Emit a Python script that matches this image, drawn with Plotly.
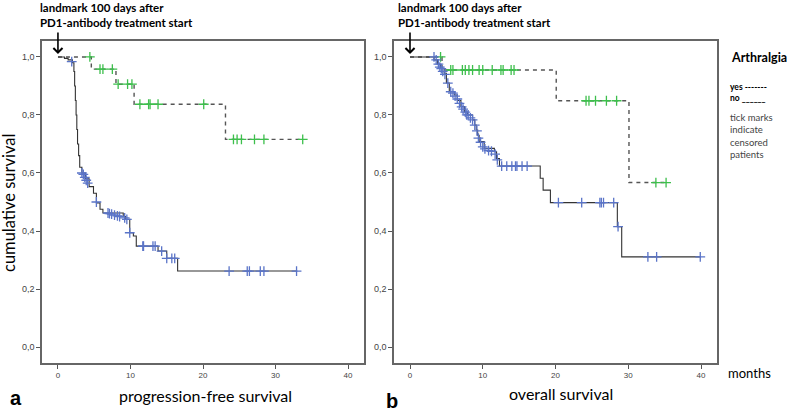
import plotly.graph_objects as go

# --- data (months, cumulative survival) ---
# a: progression-free survival, group "no" arthralgia (solid)
pfs_no_t = [0, 0.9, 1.4, 2.0, 2.2, 2.3, 2.4, 2.5, 2.6, 2.7, 2.85, 3.0, 3.3, 3.8, 4.3, 4.9,
            5.3, 5.8, 6.2, 9.0, 9.3, 9.9, 10.4, 10.8, 13.8, 15.0, 16.5, 33.0]
pfs_no_s = [1.0, 0.995, 0.99, 0.98, 0.95, 0.90, 0.85, 0.80, 0.75, 0.70, 0.66, 0.62, 0.60, 0.58, 0.553, 0.53,
            0.497, 0.475, 0.462, 0.45, 0.44, 0.394, 0.383, 0.348, 0.331, 0.306, 0.262, 0.262]
pfs_no_cens_t = [1.9, 3.3, 3.5, 3.7, 3.9, 4.1, 5.3, 6.9, 7.1, 7.4, 7.8, 8.2, 8.5, 9.2, 9.5, 9.9,
                 11.7, 11.8, 13.1, 13.4, 14.3, 15.0, 15.7, 16.1, 23.6, 26.1, 26.4, 27.9, 28.4, 32.9]
pfs_no_cens_s = [0.984, 0.60, 0.595, 0.585, 0.575, 0.565, 0.50, 0.462, 0.46, 0.458, 0.455, 0.452, 0.45, 0.445, 0.44, 0.394,
                 0.348, 0.348, 0.348, 0.348, 0.331, 0.306, 0.306, 0.306, 0.262, 0.262, 0.262, 0.262, 0.262, 0.262]

# a: group "yes" (dashed)
pfs_yes_t = [0, 4.6, 8.0, 10.5, 23.1, 33.75]
pfs_yes_s = [1.0, 0.958, 0.906, 0.837, 0.716, 0.716]
pfs_yes_cens_t = [4.4, 5.8, 6.2, 7.5, 8.3, 9.6, 10.2, 11.3, 12.5, 12.7, 13.8, 20.1,
                  24.2, 24.7, 25.3, 27.1, 28.4, 33.75]
pfs_yes_cens_s = [1.0, 0.958, 0.958, 0.958, 0.906, 0.906, 0.906, 0.837, 0.837, 0.837, 0.837, 0.837,
                  0.716, 0.716, 0.716, 0.716, 0.716, 0.716]

# b: overall survival, group "no" (solid)
os_no_t = [0, 3.3, 3.8, 4.2, 4.7, 5.0, 5.4, 6.1, 6.5, 7.0, 7.5, 7.9, 8.6, 8.9, 9.1, 9.3, 9.5,
           10.2, 11.6, 11.9, 12.3, 17.9, 18.3, 19.3, 28.5, 29.1, 39.9]
os_no_s = [1.0, 0.99, 0.975, 0.96, 0.944, 0.91, 0.88, 0.869, 0.85, 0.829, 0.81, 0.80, 0.783, 0.765, 0.748, 0.73, 0.708,
           0.685, 0.673, 0.65, 0.624, 0.582, 0.541, 0.498, 0.415, 0.311, 0.311]
os_no_cens_t = [3.3, 3.6, 3.9, 4.1, 4.3, 4.5, 4.8, 5.2, 5.6, 5.9, 6.2, 6.5, 6.8, 7.1, 7.3, 7.6, 7.8, 8.0,
                8.3, 8.6, 8.9, 9.2, 9.4, 9.7, 10.0, 10.3, 10.8, 11.2, 11.7, 12.0, 12.6, 13.3, 14.0, 14.5,
                14.7, 15.4, 16.1, 20.4, 23.6, 26.1, 26.3, 26.6, 28.0, 28.6, 32.7, 33.9, 39.9]
os_no_cens_s = [1.0, 0.99, 0.975, 0.965, 0.96, 0.95, 0.94, 0.91, 0.88, 0.875, 0.865, 0.855, 0.84, 0.828, 0.82, 0.81, 0.80, 0.80,
                0.79, 0.783, 0.765, 0.745, 0.72, 0.706, 0.69, 0.683, 0.677, 0.675, 0.665, 0.645, 0.624, 0.624, 0.624, 0.624,
                0.624, 0.624, 0.624, 0.498, 0.498, 0.498, 0.498, 0.498, 0.498, 0.415, 0.311, 0.311, 0.311]

# b: group "yes" (dashed)
os_yes_t = [0, 4.4, 20.1, 30.1, 35.2]
os_yes_s = [1.0, 0.955, 0.849, 0.567, 0.567]
os_yes_cens_t = [4.2, 5.6, 5.9, 7.2, 7.6, 8.1, 8.6, 9.5, 10.0, 11.3, 12.5, 12.8, 13.9, 14.3,
                 24.2, 24.6, 25.5, 27.0, 28.4, 33.8, 35.2]
os_yes_cens_s = [1.0, 0.955, 0.955, 0.955, 0.955, 0.955, 0.955, 0.955, 0.955, 0.955, 0.955, 0.955, 0.955, 0.955,
                 0.849, 0.849, 0.849, 0.849, 0.849, 0.567, 0.567]

y_ticks = [0, 0.2, 0.4, 0.6, 0.8, 1.0]
y_ticklabels = ['0,0', '0,2', '0,4', '0,6', '0,8', '1,0']
x_ticks = [0, 10, 20, 30, 40]

BLUE = '#5a74c8'
GREEN = '#3dbf4c'
W, H = 787, 412

fig = go.Figure()

panels = [('x', 'y', pfs_no_t, pfs_no_s, pfs_no_cens_t, pfs_no_cens_s,
           pfs_yes_t, pfs_yes_s, pfs_yes_cens_t, pfs_yes_cens_s),
          ('x2', 'y2', os_no_t, os_no_s, os_no_cens_t, os_no_cens_s,
           os_yes_t, os_yes_s, os_yes_cens_t, os_yes_cens_s)]

for xa, ya, nt, ns, nct, ncs, yt, ys, yct, ycs in panels:
    fig.add_trace(go.Scatter(x=yt, y=ys, mode='lines', line_shape='hv', xaxis=xa, yaxis=ya,
                             line=dict(color='#555555', width=1.4, dash='4px,4px'), showlegend=False))
    fig.add_trace(go.Scatter(x=nt, y=ns, mode='lines', line_shape='hv', xaxis=xa, yaxis=ya,
                             line=dict(color='#333333', width=1.1), showlegend=False))
    fig.add_trace(go.Scatter(x=yct, y=ycs, mode='markers', xaxis=xa, yaxis=ya,
                             marker=dict(symbol='cross-thin', size=7, line=dict(color=GREEN, width=1.3)),
                             showlegend=False))
    fig.add_trace(go.Scatter(x=nct, y=ncs, mode='markers', xaxis=xa, yaxis=ya,
                             marker=dict(symbol='cross-thin', size=7, line=dict(color=BLUE, width=1.3)),
                             showlegend=False))

ax_common = dict(showgrid=False, zeroline=False, showline=True, mirror=True,
                 linecolor='#666666', linewidth=1.5, ticks='outside', ticklen=4,
                 tickcolor='#555555', tickwidth=1)
xax = dict(ax_common, range=[-2.2, 42.2], tickvals=x_ticks,
           tickfont=dict(family='Liberation Sans', size=8, color='#444444'))
yax = dict(ax_common, range=[-0.055, 1.055], tickvals=y_ticks, ticktext=y_ticklabels,
           tickfont=dict(family='Liberation Sans', size=9, color='#444444'))

fig.update_layout(
    width=W, height=H,
    margin=dict(l=0, r=0, t=0, b=0),
    paper_bgcolor='white', plot_bgcolor='white',
    xaxis=dict(xax, domain=[42 / W, 364 / W], anchor='y'),
    yaxis=dict(yax, domain=[1 - 363 / H, 1 - 41 / H], anchor='x'),
    xaxis2=dict(xax, domain=[394 / W, 717 / W], anchor='y2'),
    yaxis2=dict(yax, domain=[1 - 363 / H, 1 - 41 / H], anchor='x2'),
)

txt = dict(family='Lato', color='black')


def label(px, py, text, size, xanchor='center', **kw):
    font = kw.pop('font', dict(txt, size=size))
    return dict(xref='paper', yref='paper', x=px / W, y=1 - py / H, text=text,
                xanchor=xanchor, yanchor='middle', showarrow=False, font=font, **kw)


ann = []
# landmark labels + arrows
for xr, yr, px in [('x', 'y', 38), ('x2', 'y2', 396)]:
    ann.append(label(px, 8, '<b>landmark 100 days after</b>', 11.5, 'left'))
    ann.append(label(px, 23, '<b>PD1-antibody treatment start</b>', 11.5, 'left'))
    ann.append(dict(xref=xr, yref=yr, x=0, y=1.0, ax=0, ay=-26, text='', showarrow=True,
                    arrowhead=4, arrowsize=1.1, arrowwidth=1.6, arrowcolor='black', standoff=3))

ann += [
    label(9, 203, 'cumulative survival', 16.5, textangle=-90),
    label(16, 398, '<b>a</b>', 20, font=dict(family='Liberation Sans', size=20, color='black')),
    label(205, 395, 'progression-free survival', 16),
    label(392, 401, '<b>b</b>', 20, font=dict(family='Liberation Sans', size=20, color='black')),
    label(561, 393, 'overall survival', 16),
    label(726, 373, 'months', 13, 'left'),
    label(729, 57, '<b>Arthralgia</b>', 12.5, 'left'),
    label(728, 87, '<b>yes -------</b>', 8.5, 'left'),
    label(728, 98, '<b>no ______</b>', 8.5, 'left'),
    label(728, 136, 'tick marks<br>indicate<br>censored<br>patients', 9.5, 'left', align='left',
          font=dict(family='Lato', size=9.5, color='#444444')),
]
fig.update_layout(annotations=ann)

# the page body has a default 8px margin; drop it so the figure sits at the window corner
fig.write_html("out.html", config={'displayModeBar': False},
               post_script="document.body.style.margin='0';")
